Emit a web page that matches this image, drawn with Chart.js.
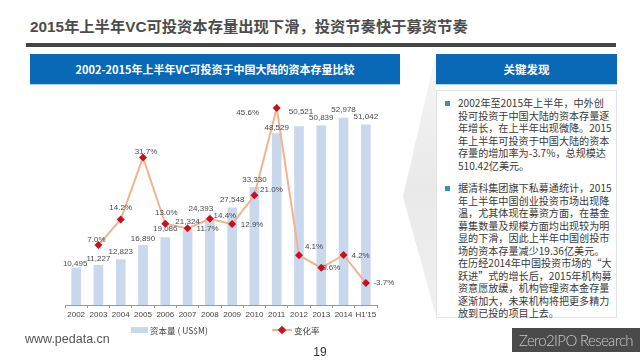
<!DOCTYPE html>
<html lang="zh">
<head>
    <meta charset="UTF-8">
    <title>VC Capital Stock</title>
    <script src="https://cdn.jsdelivr.net/npm/chart.js"></script>
    <style>
        html, body { margin: 0; padding: 0; background: #fff; }
        body { width: 640px; height: 360px; overflow: hidden; position: relative; font-family: "Noto Sans CJK SC", sans-serif; }
        .abs { position: absolute; }
        #page-title { left: 30px; top: 15px; font-size: 15.3px; line-height: 24px; font-weight: 700; color: #4c4c4c; white-space: nowrap; font-family: "Liberation Sans", "Noto Sans CJK SC", sans-serif; }
        #rule { left: 26px; top: 43px; width: 590px; height: 4px; background: #454545; }
        .blue-head { top: 54px; height: 30px; line-height: 30px; background: #0a69b7; color: #fff; text-align: center; font-weight: 700; font-size: 11px; box-shadow: 0 1px 0 #a9d4f2; }
        #chart-head { left: 30px; width: 370px; }
        #side-head { left: 436px; width: 181px; font-size: 11.5px; }
        #chevron { left: 403px; top: 53px; width: 33px; height: 263px; background: linear-gradient(#f7f7f7, #e9e9e9 50%, #f0f0f0); clip-path: polygon(100% 0, 0 54.7%, 100% 100%); }
        #side-box { left: 436px; top: 90px; width: 179px; height: 226px; background: #fff; border: 1px solid #dfe5ea; }
        .note { left: 458px; width: 156px; font-size: 10.1px; line-height: 12.5px; color: #3a3a3a; white-space: nowrap; }
        .dot { left: 445px; width: 5px; height: 5px; background: #3d8db5; }
        #chart-canvas { left: 0; top: 0; }
        #legend { left: 131px; top: 323px; height: 14px; font-size: 8.5px; line-height: 14px; color: #444; white-space: nowrap; }
        .legend-item { position: absolute; top: 0; }
        .swatch { position: absolute; top: 4px; left: 0; width: 17px; height: 6px; background: #cbd8eb; }
        .line-swatch { position: absolute; top: 6px; left: 0; width: 20px; height: 2px; background: #f2b48e; }
        .line-swatch i { position: absolute; left: 7px; top: -2px; width: 6px; height: 6px; background: #c8101e; transform: rotate(45deg); }
        #site { left: 25px; top: 330px; font-family: "Liberation Sans", sans-serif; font-size: 12.5px; line-height: 18px; color: #555; }
        #page-no { left: 300px; top: 344px; width: 40px; text-align: center; font-family: "Liberation Sans", sans-serif; font-size: 12px; line-height: 16px; color: #333; }
        #brand { left: 512px; top: 328px; width: 128px; height: 24px; background: #4a4a4a; color: #c9c9c9; font-family: "Lato", sans-serif; font-weight: 300; font-size: 15px; letter-spacing: -0.65px; line-height: 24px; text-align: center; white-space: nowrap; }
    </style>
</head>
<body>
    <div class="abs" id="page-title">2015年上半年VC可投资本存量出现下滑，投资节奏快于募资节奏</div>
    <div class="abs" id="rule"></div>
    <div class="abs blue-head" id="chart-head">2002-2015年上半年VC可投资于中国大陆的资本存量比较</div>
    <div class="abs" id="chevron"></div>
    <div class="abs blue-head" id="side-head">关键发现</div>
    <div class="abs" id="side-box"></div>
    <div class="abs dot" style="top:101px"></div>
    <div class="abs note" style="top:97px">2002年至2015年上半年，中外创<br>投可投资于中国大陆的资本存量逐<br>年增长，在上半年出现微降。2015<br>年上半年可投资于中国大陆的资本<br>存量的增加率为-3.7%，总规模达<br>510.42亿美元。</div>
    <div class="abs dot" style="top:186px"></div>
    <div class="abs note" style="top:182px">据清科集团旗下私募通统计，2015<br>年上半年中国创业投资市场出现降<br>温，尤其体现在募资方面，在基金<br>募集数量及规模方面均出现较为明<br>显的下滑，因此上半年中国创投市<br>场的资本存量减少19.36亿美元。<br>在历经2014年中国投资市场的“大<br>跃进”式的增长后，2015年机构募<br>资意愿放缓，机构管理资本金存量<br>逐渐加大，未来机构将把更多精力<br>放到已投的项目上去。</div>

    <canvas class="abs" id="chart-canvas" width="640" height="360"></canvas>

    <div class="abs" id="legend">
        <span class="legend-item" style="left:0"><span class="swatch"></span><span id="legend-bar" style="margin-left:19px"></span></span>
        <span class="legend-item" style="left:141px"><span class="line-swatch"><i></i></span><span id="legend-line" style="margin-left:22px"></span></span>
    </div>
    <div class="abs" id="site">www.pedata.cn</div>
    <div class="abs" id="page-no">19</div>
    <div class="abs" id="brand">Zero2IPO Research</div>

    <script>
        const years = ['2002', '2003', '2004', '2005', '2006', '2007', '2008', '2009', '2010', '2011', '2012', '2013', '2014', "H1'15"];
        const capitalStock = [10495, 11227, 12823, 16890, 19086, 21324, 24393, 27548, 33330, 48529, 50521, 50839, 52978, 51042];
        const changeRate = [null, 7.0, 14.2, 31.7, 13.0, 11.7, 14.4, 12.9, 21.0, 45.6, 4.1, 0.6, 4.2, -3.7];

        const barLegend = '资本量 ( US$M)';
        const lineLegend = '变化率';

        document.getElementById('legend-bar').textContent = barLegend;
        document.getElementById('legend-line').textContent = lineLegend;

        // label nudges, hand placed like the slide: [dx, dy] from the mark
        const barNudge = [[-1, -4], [0, -7], [0, -8], [0, -7], [0, -9], [0, -8], [-9, -10], [0, -8], [0, -8], [0, -6], [2, -15], [0, -8], [0, -8], [0, -8]];
        const lineNudge = [null, [-2, -5], [0, -12], [3, -6], [1, -11], [20, 0], [15, -3], [20, 1], [17, -6], [-29, 5], [15, -9], [10, 0], [17, 1], [18, 0]];

        const valueLabels = {
            id: 'valueLabels',
            afterDatasetsDraw(chart) {
                const ctx = chart.ctx;
                ctx.save();
                ctx.font = '8px "Liberation Sans", sans-serif';
                ctx.fillStyle = '#4a4a4a';
                ctx.textAlign = 'center';
                ctx.textBaseline = 'middle';
                chart.getDatasetMeta(0).data.forEach((bar, i) => {
                    ctx.fillText(capitalStock[i].toLocaleString('en-US'), bar.x + barNudge[i][0], bar.y + barNudge[i][1]);
                });
                chart.getDatasetMeta(1).data.forEach((pt, i) => {
                    if (changeRate[i] === null) return;
                    ctx.fillText(changeRate[i].toFixed(1) + '%', pt.x + lineNudge[i][0], pt.y + lineNudge[i][1]);
                });
                ctx.restore();
            }
        };

        new Chart(document.getElementById('chart-canvas'), {
            type: 'bar',
            data: {
                labels: years,
                datasets: [{
                    label: barLegend,
                    data: capitalStock,
                    backgroundColor: '#c9d8ec',
                    barThickness: 9,
                    yAxisID: 'y',
                    order: 2
                }, {
                    type: 'line',
                    label: lineLegend,
                    data: changeRate,
                    borderColor: '#f2b48e',
                    borderWidth: 2,
                    pointStyle: 'rectRot',
                    pointRadius: 4,
                    pointBackgroundColor: '#c8101e',
                    pointBorderColor: '#c8101e',
                    pointBorderWidth: 0,
                    tension: 0,
                    yAxisID: 'y1',
                    order: 1
                }]
            },
            options: {
                responsive: false,
                animation: false,
                layout: { padding: { left: 65, right: 263, top: 90, bottom: 40 } },
                plugins: { legend: { display: false }, tooltip: { enabled: false } },
                scales: {
                    x: {
                        afterFit(scale) { scale.height = 15; },
                        grid: { drawOnChartArea: false, color: '#999', tickLength: 3 },
                        border: { color: '#999' },
                        ticks: {
                            autoSkip: false,
                            maxRotation: 0,
                            padding: 2,
                            color: '#444',
                            font: { family: '"Liberation Sans", sans-serif', size: 8 }
                        }
                    },
                    y: { display: false, min: 0, max: 60900 },
                    y1: { display: false, min: -9.9, max: 50.7 }
                }
            },
            plugins: [valueLabels]
        });
    </script>
</body>
</html>
